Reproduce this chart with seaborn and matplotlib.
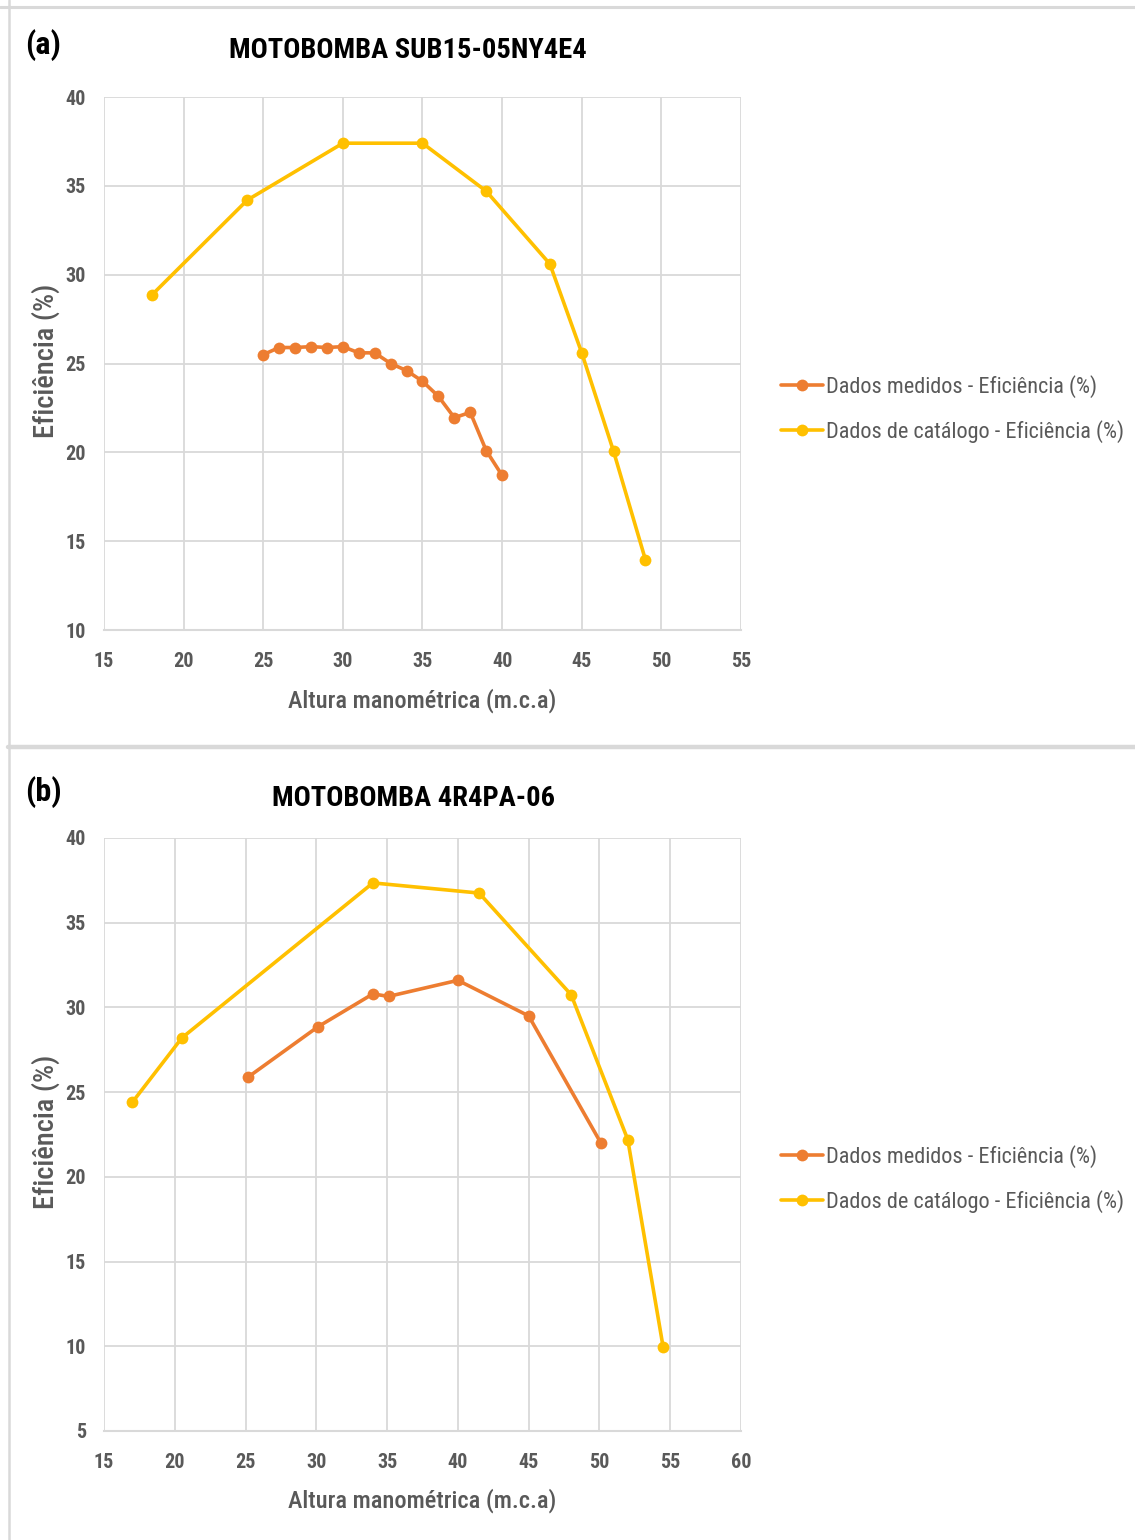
import matplotlib
matplotlib.use("Agg")
import matplotlib.pyplot as plt
import seaborn as sns
import pandas as pd
from matplotlib.lines import Line2D
from matplotlib import font_manager

sns.set_theme(style="white")
names = {f.name for f in font_manager.fontManager.ttflist}
fam = [n for n in ['Liberation Sans Narrow', 'Roboto Condensed', 'Lato'] if n in names] + ['DejaVu Sans']
plt.rcParams['font.family'] = fam

# ---- data panel (a) ----
a_med_x = [25, 26, 27, 28, 29, 30, 31, 32, 33, 34, 35, 36, 37, 38, 39, 40]
a_med_y = [25.5, 25.9, 25.9, 25.95, 25.9, 25.95, 25.6, 25.6, 25.0, 24.6, 24.0, 23.15, 21.95, 22.25, 20.1, 18.7]
a_cat_x = [18, 24, 30, 35, 39, 43, 45, 47, 49]
a_cat_y = [28.85, 34.2, 37.4, 37.4, 34.7, 30.6, 25.6, 20.05, 13.95]

# ---- data panel (b) ----
b_med_x = [25.2, 30.1, 34.0, 35.1, 40.0, 45.0, 50.1]
b_med_y = [25.9, 28.85, 30.8, 30.65, 31.6, 29.5, 22.0]
b_cat_x = [17.0, 20.5, 34.0, 41.5, 48.0, 52.0, 54.5]
b_cat_y = [24.4, 28.2, 37.35, 36.75, 30.75, 22.2, 9.95]

labels = ["Dados medidos - Eficiência (%)", "Dados de catálogo - Eficiência (%)"]
titles = ["MOTOBOMBA SUB15-05NY4E4", "MOTOBOMBA 4R4PA-06"]
tags = ["(a)", "(b)"]
xlab = "Altura manométrica (m.c.a)"
ylab = "Eficiência (%)"

ORANGE = "#ED7D31"
YELLOW = "#FFC000"
GRID = "#D9D9D9"
TXT = "#595959"

W, H = 1135, 1540
fig = plt.figure(figsize=(W / 100, H / 100), dpi=100)

def fx(px):
    return px / W

def fy(py):
    return 1 - py / H

# frame lines
fig.add_artist(Line2D([fx(0), fx(W)], [fy(7), fy(7)], color=GRID, lw=2.2))
fig.add_artist(Line2D([fx(8.5), fx(8.5)], [fy(0), fy(H)], color=GRID, lw=1.8))
fig.add_artist(Line2D([fx(8), fx(W)], [fy(747), fy(747)], color=GRID, lw=3.2))

panels = [
    dict(box=(104, 97, 741, 630), xlim=(15, 55), ylim=(10, 40), yt=range(10, 41, 5), xt=range(15, 56, 5),
         med=(a_med_x, a_med_y), cat=(a_cat_x, a_cat_y), title_y=50, tag_y=45, title_x=408,
         xlab_y=701, ylab_x=46, leg_y=(386, 432)),
    dict(box=(104, 838, 741, 1431), xlim=(15, 60), ylim=(5, 40), yt=range(5, 41, 5), xt=range(15, 61, 5),
         med=(b_med_x, b_med_y), cat=(b_cat_x, b_cat_y), title_y=798, tag_y=792, title_x=413,
         xlab_y=1501, ylab_x=46, leg_y=(1156, 1202)),
]

for i, p in enumerate(panels):
    l, t, r, b = p["box"]
    ax = fig.add_axes([fx(l), fy(b), fx(r - l), (b - t) / H])
    dm = pd.DataFrame({"x": p["med"][0], "y": p["med"][1]})
    dc = pd.DataFrame({"x": p["cat"][0], "y": p["cat"][1]})
    sns.lineplot(data=dm, x="x", y="y", ax=ax, color=ORANGE, marker="o", markersize=8.5,
                 markeredgewidth=0, linewidth=2.6, sort=False, label=labels[0], legend=False)
    sns.lineplot(data=dc, x="x", y="y", ax=ax, color=YELLOW, marker="o", markersize=8.5,
                 markeredgewidth=0, linewidth=2.6, sort=False, label=labels[1], legend=False)
    ax.set_xlim(*p["xlim"])
    ax.set_ylim(*p["ylim"])
    ax.set_xticks(list(p["xt"]))
    ax.set_yticks(list(p["yt"]))
    ax.grid(True, color=GRID, lw=1.3)
    ax.set_axisbelow(True)
    for s in ["top", "right", "left"]:
        ax.spines[s].set_visible(False)
    ax.spines["bottom"].set_color(GRID)
    ax.spines["bottom"].set_linewidth(1.5)
    ax.tick_params(axis="both", length=0, labelsize=14.5, labelcolor=TXT)
    ax.tick_params(axis="x", pad=16)
    ax.tick_params(axis="y", pad=13)
    for lab in ax.get_xticklabels() + ax.get_yticklabels():
        lab.set_fontweight("bold")
    ax.set_xlabel("")
    ax.set_ylabel("")
    fig.text(fx((l + r) / 2 - 0.5), fy(p["xlab_y"]), xlab, ha="center", va="center",
             fontsize=17.6, color=TXT, fontweight="medium")
    fig.text(fx(p["ylab_x"]), fy((t + b) / 2 - 3), ylab, ha="center", va="center",
             rotation=90, fontsize=20.5, color=TXT, fontweight="medium")
    fig.text(fx(p["title_x"]), fy(p["title_y"]), titles[i], ha="center", va="center",
             fontsize=20.5, fontweight="bold", color="black")
    fig.text(fx(25), fy(p["tag_y"]), tags[i], ha="left", va="center",
             fontsize=23, fontweight="bold", color="black")
    # legend
    handles = [Line2D([], [], color=ORANGE, marker="o", markersize=8.5, markeredgewidth=0, lw=2.6),
               Line2D([], [], color=YELLOW, marker="o", markersize=8.5, markeredgewidth=0, lw=2.6)]
    y1, y2 = p["leg_y"]
    leg = fig.legend(handles, labels, loc="center left",
                     bbox_to_anchor=(fx(772), fy((y1 + y2) / 2)), frameon=False,
                     fontsize=16, handlelength=1.9, handletextpad=0.15, labelspacing=1.0,
                     borderaxespad=0)
    for txt in leg.get_texts():
        txt.set_color(TXT)

fig.savefig("out.png", dpi=100, facecolor="white")
